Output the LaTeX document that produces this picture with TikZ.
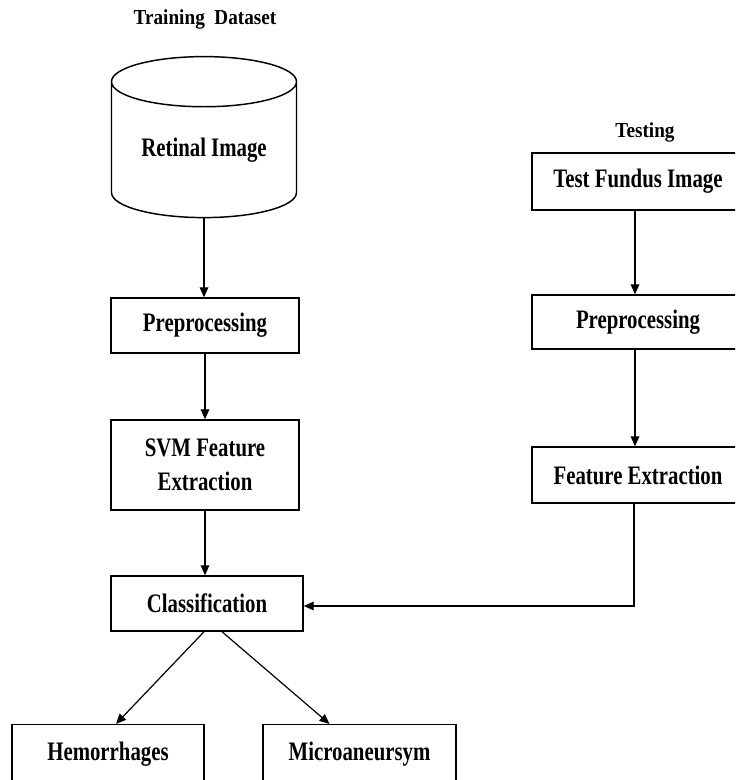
\documentclass[tikz,border=0pt]{standalone}
\usepackage{fontspec}
\setmainfont{Liberation Serif}
\newfontfamily\boxfont[FakeStretch=0.78]{Liberation Serif}
\newfontfamily\headfont[FakeStretch=0.9]{Liberation Serif}
\usetikzlibrary{arrows.meta,calc,shapes.geometric}

\begin{document}
\begin{tikzpicture}[
  x=0.75pt, y=-0.75pt,
  >={Triangle[length=7.5pt,width=6.5pt]},
  line join=miter,
  heading/.style={font=\headfont\bfseries\fontsize{16}{19}\selectfont},
  stepbox/.style={draw, line width=1.1pt, minimum width=141pt, minimum height=41.25pt,
    align=center, inner sep=0pt, font=\boxfont\bfseries\fontsize{20}{25.5}\selectfont},
  flow/.style={->, line width=0.9pt}
]
  \clip (0,0) rectangle (735,780);

  % Training branch
  \node[heading] (traintitle) at (205,19) {Training\ \ Dataset};
  \node[draw, cylinder, shape border rotate=90, aspect=0.4, line width=1.1pt,
    minimum width=138.75pt, minimum height=120.75pt, inner sep=0pt,
    font=\boxfont\bfseries\fontsize{20}{25.5}\selectfont] (retina) at (204,150) {Retinal Image};
  \node[stepbox] (pre1) at (205,325.5) {Preprocessing};
  \node[stepbox, minimum height=67.5pt] (svm) at (205,465) {SVM Feature\\Extraction};
  \node[stepbox, minimum width=144pt] (cls) at (207,603.5) {Classification};
  \node[stepbox, minimum width=144pt, minimum height=44pt] (hem) at (108,754) {Hemorrhages};
  \node[stepbox, minimum width=144.75pt, minimum height=44pt] (mic) at (359.5,754) {Microaneursym};

  % Testing branch
  \node[heading] (testtitle) at (645,132) {Testing};
  \node[stepbox, minimum width=159pt, minimum height=42.75pt] (test) at (638,181.5) {Test Fundus Image};
  \node[stepbox, minimum width=159pt, minimum height=40.5pt] (pre2) at (638,322) {Preprocessing};
  \node[stepbox, minimum width=159pt, minimum height=42pt] (feat) at (638,475) {Feature Extraction};

  \draw[flow] (retina.south) -- (retina.south |- pre1.north);
  \draw[flow] (pre1) -- (svm);
  \draw[flow] (svm.south) -- (svm.south |- cls.north);
  \draw[flow] ($(test.south)+(-3,0)$) -- ($(pre2.north)+(-3,0)$);
  \draw[flow] ($(pre2.south)+(-3,0)$) -- ($(feat.north)+(-3,0)$);
  \draw[flow] ($(feat.south)+(-4,0)$) |- ($(cls.east)+(0,2.5)$);
  \draw[flow] ($(cls.south)+(-3,0)$) -- ($(hem.north)+(8,0)$);
  \draw[flow] ($(cls.south)+(15,0)$) -- ($(mic.north)+(-30,0)$);
\end{tikzpicture}
\end{document}
